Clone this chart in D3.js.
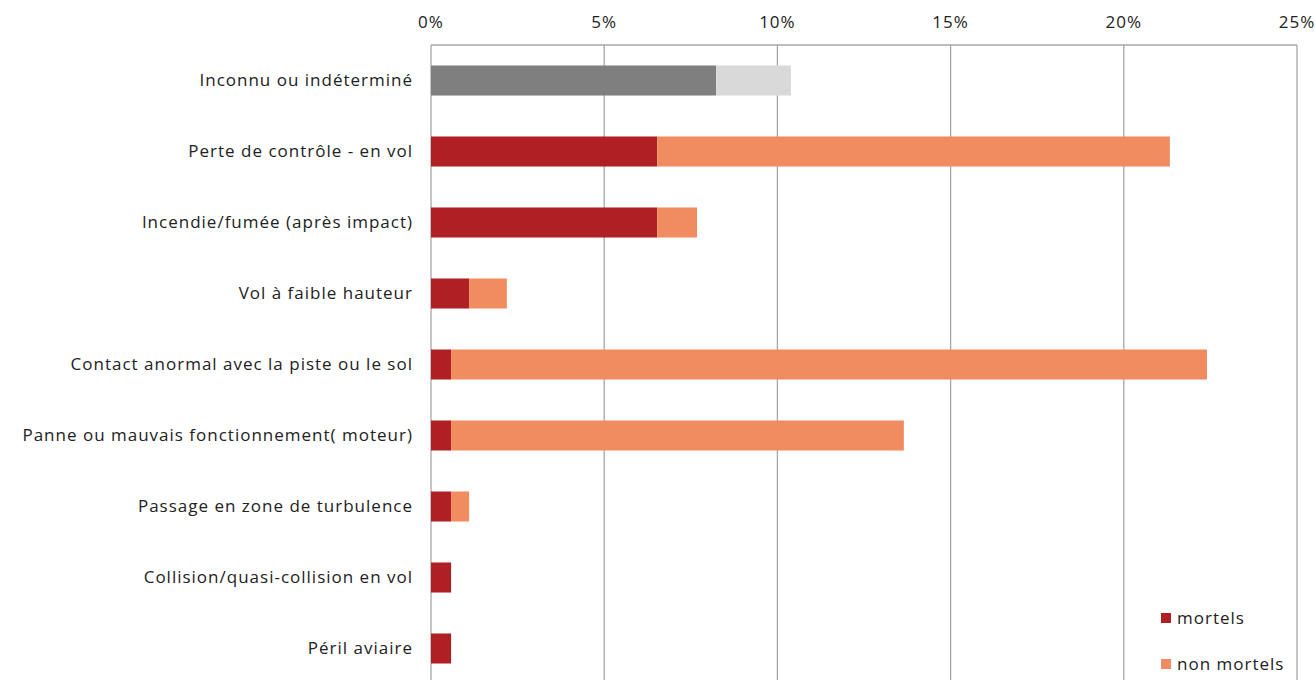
<!DOCTYPE html>
<html><head><meta charset="utf-8">
<script src="https://cdn.jsdelivr.net/npm/d3@7"></script>
<style>body{margin:0;background:#fff;} text{font-family:"Open Sans", Lato, sans-serif;fill:#222;letter-spacing:1px;}</style>
</head><body><svg id="c" width="1315" height="680"></svg>
<script>
const categories = ["Inconnu ou indéterminé","Perte de contrôle - en vol","Incendie/fumée (après impact)","Vol à faible hauteur","Contact anormal avec la piste ou le sol","Panne ou mauvais fonctionnement( moteur)","Passage en zone de turbulence","Collision/quasi-collision en vol","Péril aviaire"];
const mortels = [8.23, 6.53, 6.53, 1.1, 0.58, 0.58, 0.58, 0.58, 0.58];
const nonMortels = [2.16, 14.8, 1.15, 1.09, 21.82, 13.07, 0.52, 0, 0];
const tickValues = [0, 5, 10, 15, 20, 25];
const seriesNames = ["mortels", "non mortels"];

const svg = d3.select("#c");
const x = d3.scaleLinear().domain([0, 25]).range([431, 1297]);
const y = d3.scaleBand().domain(categories).range([45, 684]).paddingInner(0.577).paddingOuter(0.2885);

// grid
svg.append("g").selectAll("line").data(tickValues).join("line")
  .attr("x1", d => x(d)).attr("x2", d => x(d)).attr("y1", 45).attr("y2", 680)
  .attr("stroke", "#a6a6a6").attr("stroke-width", 1.3);
svg.append("line").attr("x1", x(0)).attr("x2", x(25)).attr("y1", 45).attr("y2", 45)
  .attr("stroke", "#a6a6a6").attr("stroke-width", 1.3);
svg.append("g").selectAll("text").data(tickValues).join("text")
  .attr("x", d => x(d)).attr("y", 28).attr("text-anchor", "middle")
  .style("font-size", "17px").text(d => d + "%");

const rows = categories.map((c, i) => ({c, i, m: mortels[i], n: nonMortels[i]}));
const g = svg.append("g");
g.selectAll("rect.m").data(rows).join("rect").attr("class","m")
  .attr("x", x(0)).attr("y", d => y(d.c)).attr("height", y.bandwidth())
  .attr("width", d => x(d.m) - x(0))
  .attr("fill", d => d.i === 0 ? "#7f7f7f" : "#b01f24");
g.selectAll("rect.n").data(rows.filter(d => d.n > 0)).join("rect").attr("class","n")
  .attr("x", d => x(d.m)).attr("y", d => y(d.c)).attr("height", y.bandwidth())
  .attr("width", d => x(d.m + d.n) - x(d.m))
  .attr("fill", d => d.i === 0 ? "#d9d9d9" : "#f08c60");

svg.append("g").selectAll("text").data(categories).join("text")
  .attr("x", 413).attr("y", d => y(d) + y.bandwidth()/2).attr("dy", "0.35em")
  .attr("text-anchor", "end").style("font-size", "17px").text(d => d);

const legColors = ["#b01f24", "#f08c60"];
const leg = svg.append("g").selectAll("g").data(seriesNames).join("g")
  .attr("transform", (d, i) => `translate(1161,${613 + i*46})`);
leg.append("rect").attr("width", 10).attr("height", 10).attr("fill", (d, i) => legColors[i]);
leg.append("text").attr("x", 16).attr("y", 11).style("font-size", "17px").text(d => d);
</script></body></html>
